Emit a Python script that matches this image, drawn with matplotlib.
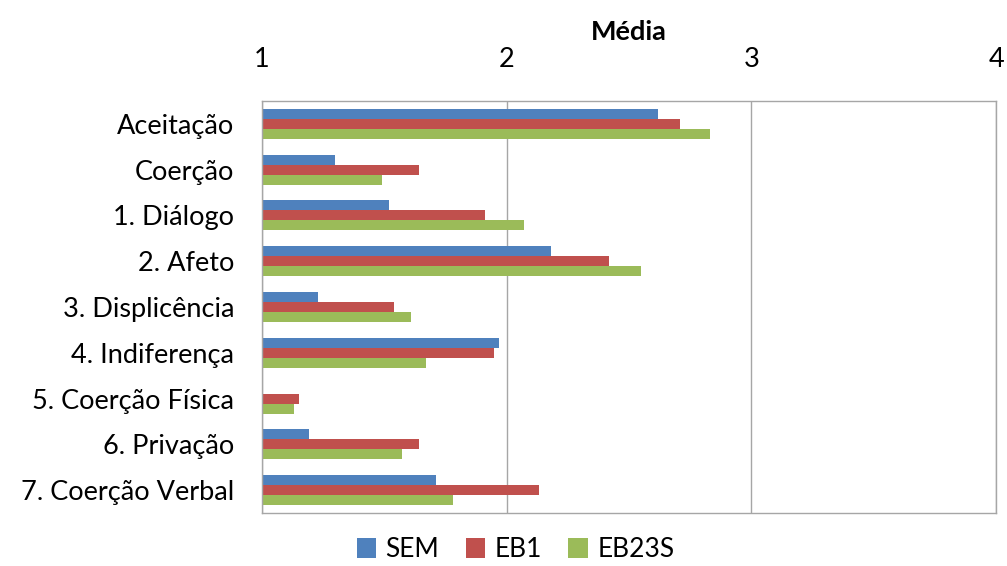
import matplotlib.pyplot as plt
import numpy as np

categories = ["Aceitação", "Coerção", "1. Diálogo", "2. Afeto", "3. Displicência",
              "4. Indiferença", "5. Coerção Física", "6. Privação", "7. Coerção Verbal"]
series_names = ["SEM", "EB1", "EB23S"]
sem = [2.62, 1.30, 1.52, 2.18, 1.23, 1.97, 1.00, 1.19, 1.71]
eb1 = [2.71, 1.64, 1.91, 2.42, 1.54, 1.95, 1.15, 1.64, 2.13]
eb23s = [2.83, 1.49, 2.07, 2.55, 1.61, 1.67, 1.13, 1.57, 1.78]
x_ticks = [1, 2, 3, 4]

COLORS = ["#4F81BD", "#C0504D", "#9BBB59"]
GRID = "#a6a6a6"

plt.rcParams["font.family"] = ["Lato", "DejaVu Sans"]

fig = plt.figure(figsize=(10.07, 5.66), dpi=100)
ax = fig.add_axes([0.2602, 0.0936, 0.729, 0.728])

y = np.arange(len(categories))
h = 0.218
for i, (vals, name) in enumerate(zip([sem, eb1, eb23s], series_names)):
    vals = np.array(vals)
    ax.barh(y + (i - 1) * h, vals - 1, left=1, height=h, color=COLORS[i], label=name)

ax.set_xlim(1, 4)
ax.set_ylim(len(categories) - 0.5, -0.5)
ax.set_xticks(x_ticks)
ax.set_yticks(y)
ax.set_yticklabels(categories, fontsize=19.5)
ax.xaxis.tick_top()
ax.tick_params(axis="x", labelsize=19.5, length=0, pad=21)
ax.tick_params(axis="y", length=0, pad=20)
ax.xaxis.set_label_position("top")
ax.set_xlabel("Média", fontsize=19.5, fontweight="bold", labelpad=5)

ax.grid(axis="x", color=GRID, linewidth=1)
ax.set_axisbelow(True)
for spine in ax.spines.values():
    spine.set_edgecolor(GRID)
    spine.set_linewidth(1)

fig.legend(loc="lower center", ncol=3, frameon=False, fontsize=19,
           bbox_to_anchor=(0.512, -0.035), handlelength=0.75, handleheight=0.75,
           handletextpad=0.35, columnspacing=1.0)

fig.savefig("out.png", dpi=100)
